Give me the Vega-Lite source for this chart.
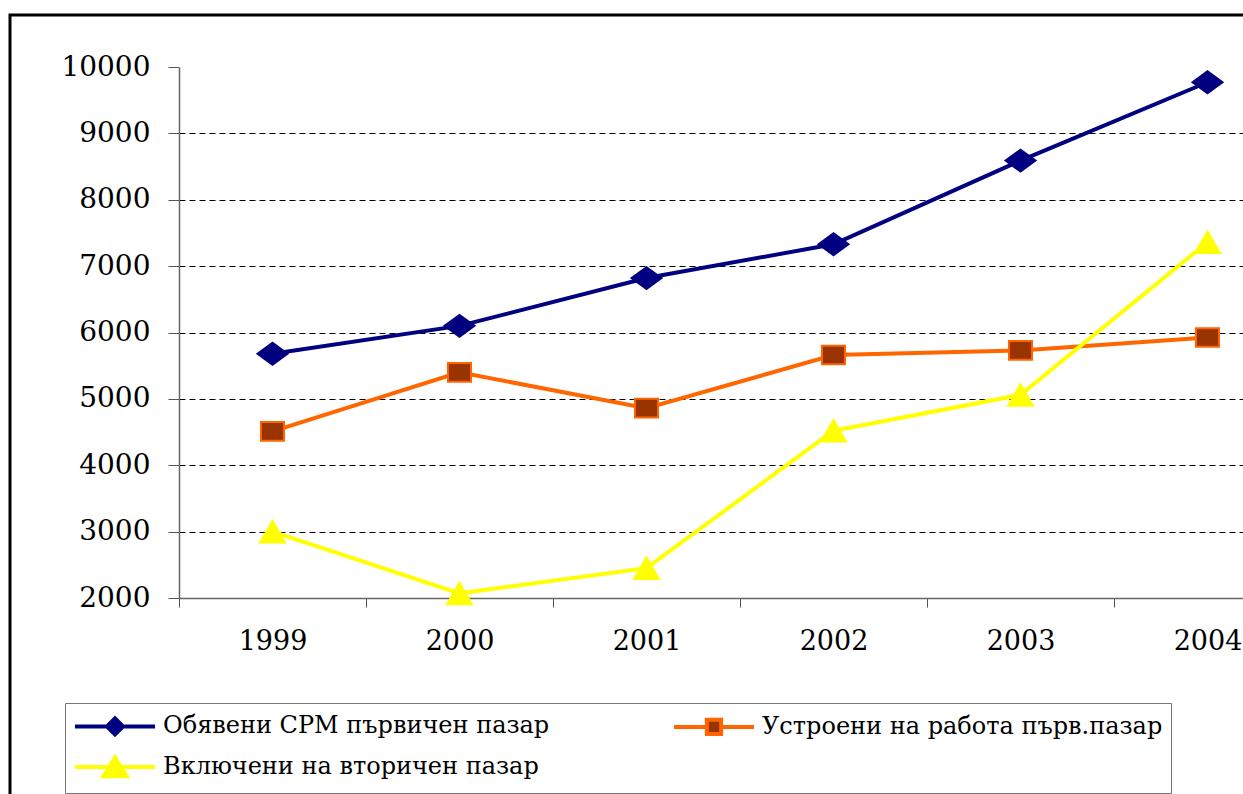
{
  "$schema": "https://vega.github.io/schema/vega-lite/v6.json",
  "autosize": "none",
  "padding": {"left": 10, "top": 15, "right": 0, "bottom": 0},
  "width": 1300,
  "height": 800,
  "background": "#ffffff",
  "data": {
    "values": [
      {"year": "1999", "series": "Обявени СРМ първичен пазар", "value": 5680},
      {"year": "2000", "series": "Обявени СРМ първичен пазар", "value": 6100},
      {"year": "2001", "series": "Обявени СРМ първичен пазар", "value": 6820},
      {"year": "2002", "series": "Обявени СРМ първичен пазар", "value": 7330},
      {"year": "2003", "series": "Обявени СРМ първичен пазар", "value": 8590},
      {"year": "2004", "series": "Обявени СРМ първичен пазар", "value": 9770},
      {"year": "1999", "series": "Устроени на работа първ.пазар", "value": 4510},
      {"year": "2000", "series": "Устроени на работа първ.пазар", "value": 5400},
      {"year": "2001", "series": "Устроени на работа първ.пазар", "value": 4860},
      {"year": "2002", "series": "Устроени на работа първ.пазар", "value": 5660},
      {"year": "2003", "series": "Устроени на работа първ.пазар", "value": 5730},
      {"year": "2004", "series": "Устроени на работа първ.пазар", "value": 5925},
      {"year": "1999", "series": "Включени на вторичен пазар", "value": 3000},
      {"year": "2000", "series": "Включени на вторичен пазар", "value": 2070},
      {"year": "2001", "series": "Включени на вторичен пазар", "value": 2450},
      {"year": "2002", "series": "Включени на вторичен пазар", "value": 4520},
      {"year": "2003", "series": "Включени на вторичен пазар", "value": 5060},
      {"year": "2004", "series": "Включени на вторичен пазар", "value": 7360}
    ]
  },
  "encoding": {
    "x": {
      "field": "year",
      "type": "ordinal",
      "scale": {"type": "band", "paddingInner": 0, "paddingOuter": 0, "range": [169, 1291]},
      "axis": {
        "title": null,
        "orient": "bottom",
        "offset": -217,
        "labelAngle": 0,
        "labelFont": "DejaVu Serif",
        "labelFontSize": 27,
        "labelColor": "#000000",
        "labelPadding": 21,
        "tickBand": "extent",
        "tickSize": 9,
        "tickColor": "#555555",
        "domainColor": "#666666",
        "domainWidth": 1.5,
        "grid": false
      }
    },
    "y": {
      "field": "value",
      "type": "quantitative",
      "scale": {"domain": [2000, 10000], "nice": false, "zero": false, "range": [583, 52]},
      "axis": {
        "title": null,
        "offset": -169,
        "values": [2000, 3000, 4000, 5000, 6000, 7000, 8000, 9000, 10000],
        "format": "d",
        "labelFont": "DejaVu Serif",
        "labelFontSize": 28,
        "labelColor": "#000000",
        "labelPadding": 18,
        "tickSize": 11,
        "tickColor": "#555555",
        "domainColor": "#666666",
        "domainWidth": 1.5,
        "grid": true,
        "gridColor": "#000000",
        "gridDash": [6, 4],
        "gridWidth": 1,
        "gridOpacity": {"condition": {"test": "datum.value === 10000", "value": 0}, "value": 1}
      }
    }
  },
  "layer": [
    {
      "mark": {"type": "line", "strokeWidth": 4},
      "encoding": {
        "color": {
          "field": "series",
          "type": "nominal",
          "sort": null,
          "scale": {
            "domain": ["Обявени СРМ първичен пазар", "Устроени на работа първ.пазар", "Включени на вторичен пазар"],
            "range": ["#000080", "#FF6600", "#FFFF00"]
          },
          "legend": {
            "title": null,
            "orient": "none",
            "legendX": 55,
            "legendY": 688,
            "columns": 2,
            "direction": "horizontal",
            "padding": 8,
            "rowPadding": 6,
            "columnPadding": 115,
            "strokeColor": "#777777",
            "labelFont": "DejaVu Serif",
            "labelFontSize": 24,
            "labelColor": "#000000",
            "labelLimit": 0,
            "labelOffset": 33,
            "symbolOffset": 27,
            "symbolSize": 676,
            "symbolStrokeWidth": 4,
            "symbolType": {"expr": "datum.value === 'Обявени СРМ първичен пазар' ? 'M-3.08,0H3.08M-0.62,0L0,-0.62L0.62,0L0,0.62Z' : (datum.value === 'Устроени на работа първ.пазар' ? 'M-3.08,0H-0.55M0.55,0H3.08M-0.55,-0.55H0.55V0.55H-0.55Z' : 'M-3.08,0H3.08M0,-0.72L0.9,0.72L-0.9,0.72Z')"},
            "symbolFillColor": {"expr": "datum.value === 'Обявени СРМ първичен пазар' ? '#000080' : (datum.value === 'Устроени на работа първ.пазар' ? '#993300' : '#FFFF00')"}
          }
        }
      }
    },
    {
      "mark": {"type": "point", "filled": true, "size": 900, "strokeWidth": 2, "opacity": 1, "fillOpacity": 1, "strokeOpacity": 1},
      "encoding": {
        "shape": {
          "field": "series",
          "type": "nominal",
          "scale": {
            "range": ["M0,-0.72L0.83,0.72L-0.83,0.72Z", "M-1,0L0,-0.73L1,0L0,0.73Z", "M-0.77,-0.62H0.77V0.62H-0.77Z"]
          },
          "legend": null
        },
        "fill": {
          "field": "series",
          "type": "nominal",
          "scale": {"range": ["#FFFF00", "#000080", "#993300"]},
          "legend": null
        },
        "stroke": {
          "field": "series",
          "type": "nominal",
          "scale": {"range": ["#FFFF00", "#000080", "#FF6600"]},
          "legend": null
        }
      }
    }
  ],
  "config": {
    "view": {"stroke": "#000000", "strokeWidth": 3}
  }
}
